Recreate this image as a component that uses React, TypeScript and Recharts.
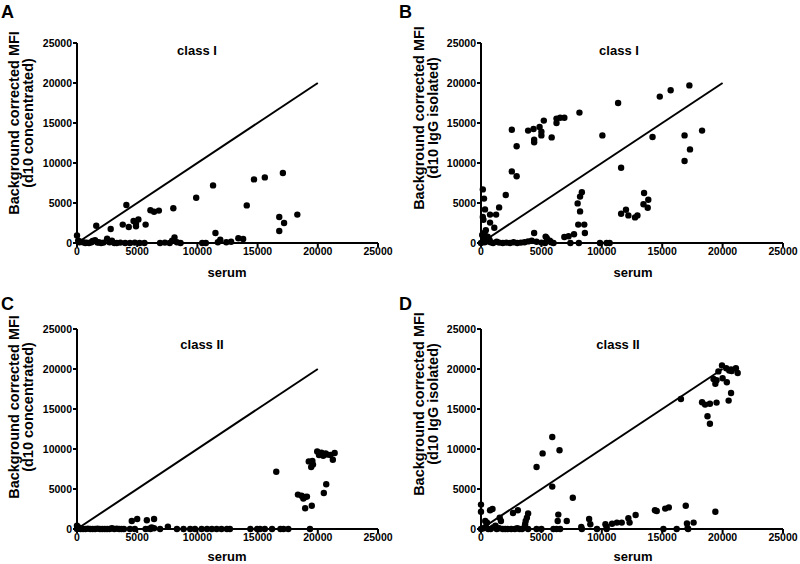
import React from "react";
import { ScatterChart, Scatter, XAxis, YAxis, ReferenceLine } from "recharts";

// serum MFI vs d10 MFI
const classIConcentrated: [number, number][] = [
  [0, 950], [100, 300], [200, 100], [300, 150], [500, 100], [700, 0], [800, 50], [1000, 0], [1200, 100],
  [1300, 250], [1500, 350], [1700, 50], [1800, 100], [2000, 0], [2200, 50], [2500, 550], [2700, 100],
  [2900, 300], [3100, 0], [3300, 0], [3600, 50], [4000, 0], [4400, 0], [4800, 50], [5200, 0], [5600, 0],
  [6900, 0], [7300, 50], [7700, 0], [7900, 300], [8100, 700], [8300, 100], [8600, 0], [10400, 0],
  [10700, 0], [11700, 100], [11900, 400], [12400, 100], [12800, 150], [13400, 600], [13800, 500],
  [11500, 1250], [1600, 2150], [2800, 1750], [3800, 2300], [4300, 2000], [4700, 2750], [4900, 2400],
  [4900, 2100], [5100, 2950], [5700, 2300], [4100, 4750], [6100, 4100], [6400, 3900], [6800, 4050],
  [8000, 4350], [9900, 5650], [11300, 7200], [14100, 4700], [14700, 7950], [15600, 8200], [17100, 8750],
  [18300, 3550], [16800, 3250], [17200, 2500], [16800, 1500],
];

const classIIsolated: [number, number][] = [
  [17250, 19700], [15700, 19100], [14800, 18300], [11350, 17500], [8150, 16300], [18300, 14050],
  [16850, 13450], [17300, 11700], [16850, 10250], [10050, 13450], [14200, 13250], [11600, 9400],
  [6250, 15550], [6550, 15650], [6900, 15650], [6250, 15000], [5850, 13200], [5200, 15300], [4850, 14500],
  [5000, 13900], [5000, 13450], [4350, 14250], [3900, 14050], [4400, 12900], [4400, 12600], [2550, 14150],
  [2950, 12100], [2550, 8950], [2950, 8350], [2050, 6000], [1500, 4450], [1250, 3550], [750, 3550],
  [750, 2550], [1100, 1900], [150, 6700], [250, 5550], [330, 4200], [150, 3250], [200, 2900], [400, 1600],
  [100, 1000], [300, 1300], [550, 800], [200, 500], [700, 400], [8350, 6350], [8200, 5800], [8000, 4950],
  [8200, 3950], [8050, 2300], [8550, 2300], [8600, 1250], [7700, 1100], [7250, 850], [6900, 750],
  [11600, 3650], [12000, 4150], [12200, 3450], [12750, 3200], [12950, 3450], [13500, 6250], [13450, 4850],
  [13850, 5400], [13800, 4400], [9850, 0], [10650, 0], [10400, 0], [7400, 0], [8100, 0], [4400, 1250],
  [5350, 800], [5450, 600], [5700, 300], [5800, 100], [0, 0], [300, 100], [500, 200], [800, 100],
  [1000, 0], [1300, 150], [1500, 50], [1800, 0], [2100, 50], [2400, 0], [2700, 100], [3000, 0], [3300, 50],
  [3600, 100], [3900, 200], [4200, 300], [4600, 150], [5000, 50], [5300, 0], [6000, 0],
];

const classIIConcentrated: [number, number][] = [
  [19950, 9700], [20300, 9550], [20650, 9450], [21050, 9250], [21400, 9500], [20100, 9250], [20450, 9150],
  [20800, 9300], [21250, 8650], [19250, 8450], [19550, 8500], [19450, 7750], [19600, 8050], [18350, 4300],
  [18650, 4150], [18950, 4000], [18800, 3800], [19100, 4050], [20700, 5600], [20500, 4500], [18950, 2600],
  [19500, 2900], [16550, 7150], [4550, 1000], [5000, 1250], [5800, 1100], [6400, 1250], [7550, 300],
  [6200, 200], [6400, 100], [6000, 50], [0, 400], [0, 0], [150, 200], [300, 0], [500, 0], [700, 0],
  [900, 50], [1100, 0], [1300, 0], [1500, 0], [1700, 50], [1900, 0], [2100, 0], [2300, 0], [2500, 0],
  [2700, 0], [2900, 100], [3100, 0], [3300, 50], [3500, 0], [3700, 0], [3900, 0], [4400, 0], [4800, 0],
  [5700, 0], [6100, 0], [6900, 0], [8300, 0], [8850, 0], [9400, 0], [9800, 0], [10350, 0], [10800, 0],
  [11200, 0], [11600, 0], [12000, 0], [12450, 0], [12700, 0], [14400, 0], [14950, 0], [15200, 0],
  [15600, 0], [16200, 0], [16900, 0], [17150, 0], [17550, 0], [19350, 0],
];

const classIIIsolated: [number, number][] = [
  [19950, 20450], [20300, 20100], [20700, 19950], [21100, 20100], [21250, 19500], [20750, 19750],
  [20550, 19800], [19650, 19700], [19250, 18750], [20000, 18850], [20350, 18350], [19400, 18150],
  [19500, 18600], [16550, 16250], [18300, 15850], [18550, 15550], [18950, 15650], [19500, 15800],
  [20500, 16050], [20700, 17000], [18750, 14100], [18950, 13150], [5900, 11500], [6500, 9850], [5100, 9450],
  [4600, 7750], [5900, 5300], [7600, 3900], [16950, 2900], [14400, 2350], [14550, 2250], [15250, 2550],
  [15550, 2700], [19400, 2150], [12800, 1750], [12200, 1350], [12300, 800], [11650, 800], [11250, 800],
  [10850, 650], [10300, 600], [10400, 300], [8950, 1250], [9050, 600], [8300, 250], [7100, 1000],
  [6400, 1800], [6350, 1000], [17050, 700], [17600, 800], [17100, 100], [0, 3050], [0, 2150], [750, 2350],
  [950, 2500], [350, 1000], [500, 800], [1550, 1400], [1650, 1000], [2650, 2000], [3050, 2350], [3700, 1000],
  [3650, 600], [3900, 1950], [3800, 1400], [0, 0], [200, 100], [400, 300], [600, 0], [800, 0], [1000, 200],
  [1200, 400], [1300, 0], [1500, 100], [1800, 0], [2000, 0], [2200, 0], [2500, 0], [2800, 0], [3000, 100],
  [3200, 0], [3400, 0], [3600, 200], [3900, 0], [4600, 0], [5000, 0], [6000, 0], [6250, 0], [6550, 0],
  [8350, 0], [9600, 0], [10400, 0], [15100, 0], [16200, 0], [17150, 0],
];

const TICKS = [0, 5000, 10000, 15000, 20000, 25000];
const FONT = "'Liberation Sans', Arial, sans-serif";

const Dot = (props: any) => <circle cx={props.cx} cy={props.cy} r={3.2} fill="#000" />;

function Panel({ data, left, top, margin }: { data: [number, number][]; left: number; top: number; margin: any }) {
  const points = data.map(([x, y]) => ({ x, y }));
  const tick = { fill: "#000", fontSize: 10.5, fontWeight: "bold", fontFamily: FONT };
  return (
    <div style={{ position: "absolute", left, top }}>
      <ScatterChart width={400} height={282} margin={margin}>
        <XAxis
          type="number" dataKey="x" domain={[0, 25000]} ticks={TICKS} interval={0}
          axisLine={{ stroke: "#000", strokeWidth: 2 }} tickLine={{ stroke: "#000", strokeWidth: 2 }}
          tickSize={4} tickMargin={1} tick={tick} height={30}
        />
        <YAxis
          type="number" dataKey="y" domain={[0, 25000]} ticks={TICKS} interval={0}
          axisLine={{ stroke: "#000", strokeWidth: 2 }} tickLine={{ stroke: "#000", strokeWidth: 2 }}
          tickSize={4} tickMargin={1} tick={tick} width={50}
        />
        <ReferenceLine segment={[{ x: 0, y: 0 }, { x: 20000, y: 20000 }]} stroke="#000" strokeWidth={2} />
        <Scatter data={points} shape={Dot} isAnimationActive={false} />
      </ScatterChart>
    </div>
  );
}

function YLabel({ cx, cy, sub }: { cx: number; cy: number; sub: string }) {
  return (
    <g fontFamily={FONT} fontWeight="bold" fontSize={14.5} fill="#000" textAnchor="middle">
      <text x={cx} y={cy} transform={`rotate(-90 ${cx} ${cy})`} dominantBaseline="central">
        Background corrected MFI
      </text>
      <text x={cx + 13.5} y={cy} transform={`rotate(-90 ${cx + 13.5} ${cy})`} dominantBaseline="central">
        {sub}
      </text>
    </g>
  );
}

export default function App() {
  const txt = { fontFamily: FONT, fontWeight: "bold" as const, fill: "#000" };
  return (
    <div style={{ position: "absolute", left: 0, top: 0, width: 800, height: 564, background: "#fff" }}>
      <Panel data={classIConcentrated} left={0} top={0} margin={{ top: 43, right: 22, left: 27, bottom: 9 }} />
      <Panel data={classIIsolated} left={400} top={0} margin={{ top: 43, right: 17, left: 31, bottom: 9 }} />
      <Panel data={classIIConcentrated} left={0} top={282} margin={{ top: 47, right: 22, left: 27, bottom: 5 }} />
      <Panel data={classIIIsolated} left={400} top={282} margin={{ top: 47, right: 17, left: 31, bottom: 5 }} />
      <svg width={800} height={564} style={{ position: "absolute", left: 0, top: 0, pointerEvents: "none" }}>
        <text x={1} y={18} fontSize={18} {...txt}>A</text>
        <text x={399} y={18} fontSize={18} {...txt}>B</text>
        <text x={1} y={310} fontSize={18} {...txt}>C</text>
        <text x={399} y={310} fontSize={18} {...txt}>D</text>

        <text x={197} y={55} fontSize={13} textAnchor="middle" {...txt}>class I</text>
        <text x={619} y={55} fontSize={13} textAnchor="middle" {...txt}>class I</text>
        <text x={202} y={349} fontSize={13} textAnchor="middle" {...txt}>class II</text>
        <text x={618} y={349} fontSize={13} textAnchor="middle" {...txt}>class II</text>

        <text x={227} y={277} fontSize={13} textAnchor="middle" {...txt}>serum</text>
        <text x={633} y={277} fontSize={13} textAnchor="middle" {...txt}>serum</text>
        <text x={227} y={561} fontSize={13} textAnchor="middle" {...txt}>serum</text>
        <text x={633} y={561} fontSize={13} textAnchor="middle" {...txt}>serum</text>

        <YLabel cx={14} cy={123} sub="(d10 concentrated)" />
        <YLabel cx={419} cy={118} sub="(d10 IgG isolated)" />
        <YLabel cx={14} cy={407} sub="(d10 concentrated)" />
        <YLabel cx={419} cy={404} sub="(d10 IgG isolated)" />
      </svg>
    </div>
  );
}
